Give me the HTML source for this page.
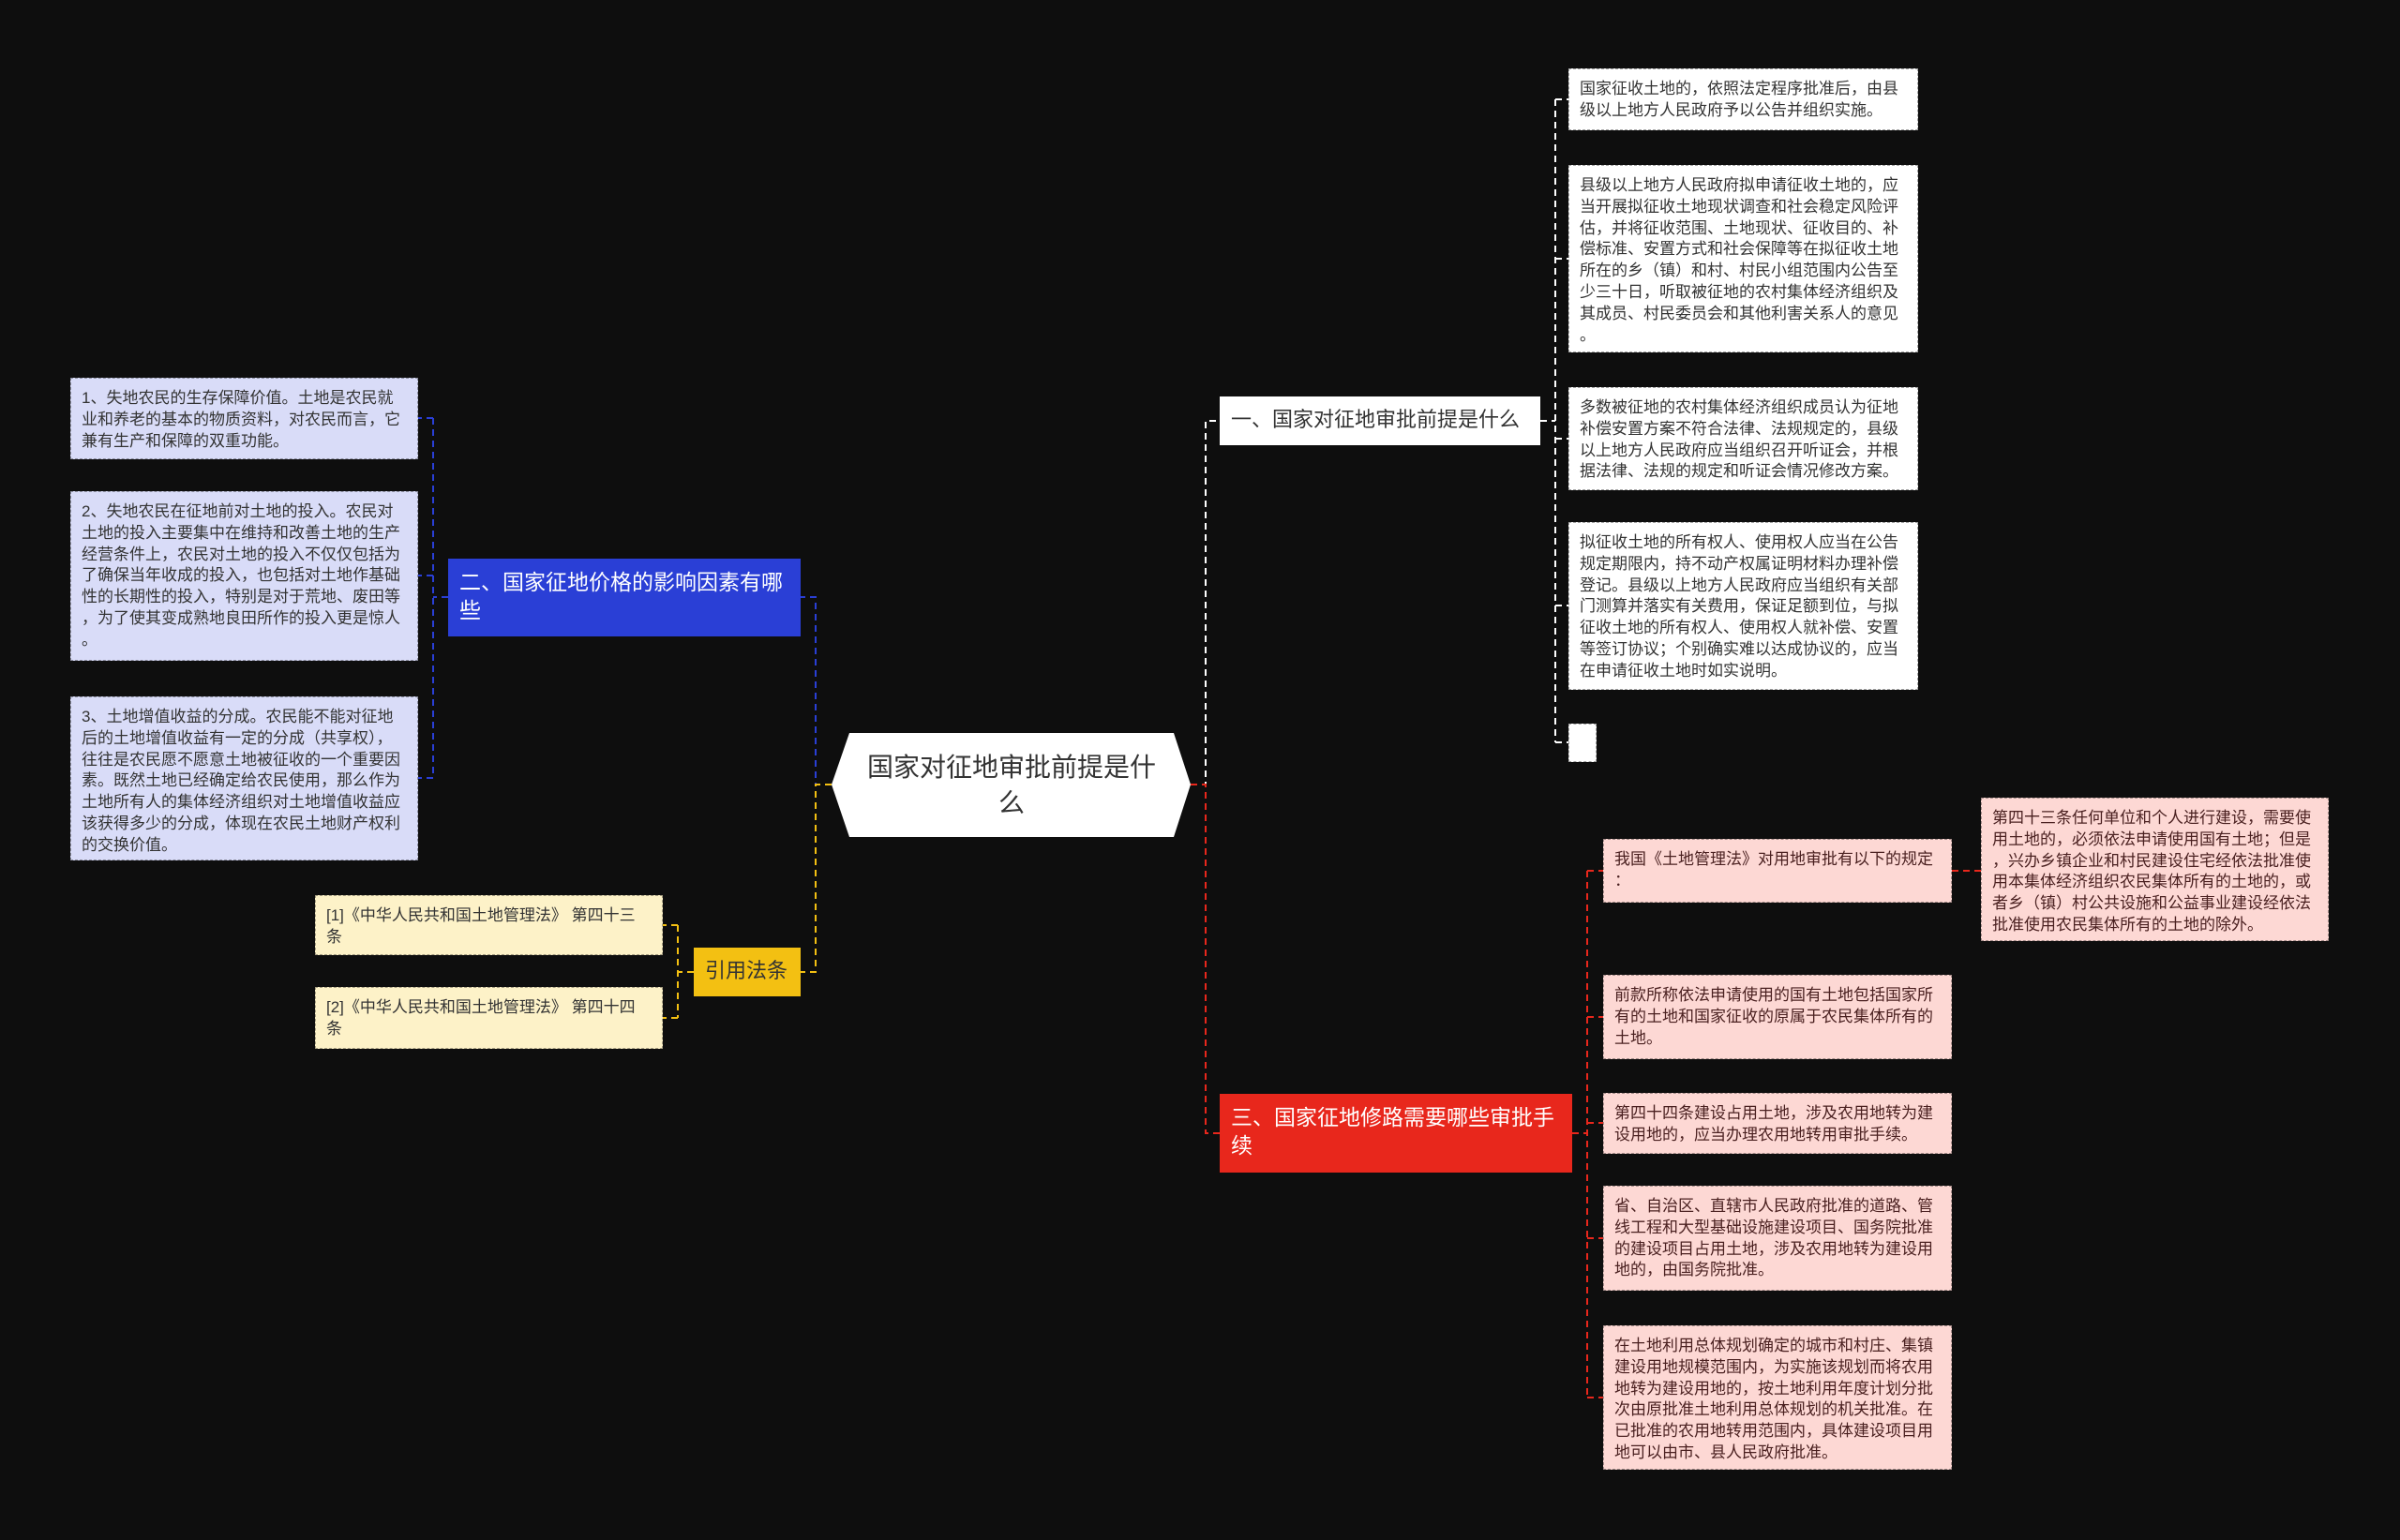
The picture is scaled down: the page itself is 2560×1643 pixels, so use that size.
<!DOCTYPE html>
<html><head><meta charset="utf-8"><style>
html,body{margin:0;padding:0;background:#0e0e0e;}
body{width:2560px;height:1643px;position:relative;overflow:hidden;font-family:"Liberation Sans","Noto Sans CJK SC",sans-serif;}
.b{position:absolute;box-sizing:border-box;font-size:17px;line-height:22.8px;padding:10px 11px;color:#333;border:1.5px dashed rgba(0,0,0,0.35);line-break:anywhere;word-break:break-all;}
.w{background:#fff;}
.l{background:#d9dcf8;color:#333;}
.y{background:#fdf2c8;padding-right:19px;}
.p{background:#fdd8d4;color:#4a2020;}
.br{position:absolute;box-sizing:border-box;font-size:23px;line-height:30px;padding:10px 12px;line-break:anywhere;}
svg{position:absolute;left:0;top:0;}
</style></head><body>
<svg width="2560" height="1643">
<g fill="none" stroke-width="2" stroke-dasharray="7,5">
<path d="M1270 837 H1286 V449 H1301" stroke="#ffffff"/>
<path d="M1270 837 H1286 V1209 H1301" stroke="#e8271c"/>
<path d="M887 837 H870 V637 H854" stroke="#2a3fd6"/>
<path d="M887 837 H870 V1037 H854" stroke="#f3c012"/>
<path d="M1643 449 H1659 M1659 106 V792 M1659 106 H1673 M1659 276 H1673 M1659 468 H1673 M1659 646 H1673 M1659 792 H1673" stroke="#ffffff"/>
<path d="M478 637 H462 M462 446 V830 M462 446 H446 M462 614 H446 M462 830 H446" stroke="#2a3fd6"/>
<path d="M740 1037 H723 M723 987 V1086 M723 987 H707 M723 1086 H707" stroke="#f3c012"/>
<path d="M1677 1209 H1693 M1693 929 V1491 M1693 929 H1710 M1693 1085 H1710 M1693 1198 H1710 M1693 1321 H1710 M1693 1491 H1710 M2082 929 H2113" stroke="#e8271c"/>
</g>
</svg>
<svg width="2560" height="1643"><polygon points="906,782 1252,782 1270,837 1252,893 906,893 887,837" fill="#fff"/></svg>
<div style="position:absolute;left:906px;top:782px;width:346px;height:111px;display:flex;align-items:center;justify-content:center;text-align:center;font-size:28px;line-height:38px;color:#333;">国家对征地审批前提是什<br>么</div>

<div class="br" style="left:1301px;top:423px;width:342px;height:52px;background:#fff;color:#333;font-size:22px;padding:10px 8px 10px 12px;white-space:nowrap;">一、国家对征地审批前提是什么</div>
<div class="b w" style="left:1673px;top:73px;width:373px;height:66px;">国家征收土地的，依照法定程序批准后，由县级以上地方人民政府予以公告并组织实施。</div>
<div class="b w" style="left:1673px;top:176px;width:373px;height:200px;">县级以上地方人民政府拟申请征收土地的，应当开展拟征收土地现状调查和社会稳定风险评估，并将征收范围、土地现状、征收目的、补偿标准、安置方式和社会保障等在拟征收土地所在的乡（镇）和村、村民小组范围内公告至少三十日，听取被征地的农村集体经济组织及其成员、村民委员会和其他利害关系人的意见。</div>
<div class="b w" style="left:1673px;top:413px;width:373px;height:110px;">多数被征地的农村集体经济组织成员认为征地补偿安置方案不符合法律、法规规定的，县级以上地方人民政府应当组织召开听证会，并根据法律、法规的规定和听证会情况修改方案。</div>
<div class="b w" style="left:1673px;top:557px;width:373px;height:179px;">拟征收土地的所有权人、使用权人应当在公告规定期限内，持不动产权属证明材料办理补偿登记。县级以上地方人民政府应当组织有关部门测算并落实有关费用，保证足额到位，与拟征收土地的所有权人、使用权人就补偿、安置等签订协议；个别确实难以达成协议的，应当在申请征收土地时如实说明。</div>
<div class="b w" style="left:1673px;top:772px;width:30px;height:41px;"></div>

<div class="br" style="left:478px;top:596px;width:376px;height:83px;background:#2a3fd6;color:#fff;">二、国家征地价格的影响因素有哪些</div>
<div class="b l" style="left:75px;top:403px;width:371px;height:87px;">1、失地农民的生存保障价值。土地是农民就业和养老的基本的物质资料，对农民而言，它兼有生产和保障的双重功能。</div>
<div class="b l" style="left:75px;top:524px;width:371px;height:181px;">2、失地农民在征地前对土地的投入。农民对土地的投入主要集中在维持和改善土地的生产经营条件上，农民对土地的投入不仅仅包括为了确保当年收成的投入，也包括对土地作基础性的长期性的投入，特别是对于荒地、废田等，为了使其变成熟地良田所作的投入更是惊人。</div>
<div class="b l" style="left:75px;top:743px;width:371px;height:175px;">3、土地增值收益的分成。农民能不能对征地后的土地增值收益有一定的分成（共享权），往往是农民愿不愿意土地被征收的一个重要因素。既然土地已经确定给农民使用，那么作为土地所有人的集体经济组织对土地增值收益应该获得多少的分成，体现在农民土地财产权利的交换价值。</div>

<div class="br" style="left:740px;top:1011px;width:114px;height:52px;background:#f3c012;color:#333;font-size:22px;">引用法条</div>
<div class="b y" style="left:336px;top:955px;width:371px;height:64px;">[1]《中华人民共和国土地管理法》 第四十三条</div>
<div class="b y" style="left:336px;top:1053px;width:371px;height:66px;">[2]《中华人民共和国土地管理法》 第四十四条</div>

<div class="br" style="left:1301px;top:1167px;width:376px;height:84px;background:#e8271c;color:#fff;">三、国家征地修路需要哪些审批手续</div>
<div class="b p" style="left:1710px;top:895px;width:372px;height:68px;">我国《土地管理法》对用地审批有以下的规定：</div>
<div class="b p" style="left:2113px;top:851px;width:371px;height:153px;">第四十三条任何单位和个人进行建设，需要使用土地的，必须依法申请使用国有土地；但是，兴办乡镇企业和村民建设住宅经依法批准使用本集体经济组织农民集体所有的土地的，或者乡（镇）村公共设施和公益事业建设经依法批准使用农民集体所有的土地的除外。</div>
<div class="b p" style="left:1710px;top:1040px;width:372px;height:90px;">前款所称依法申请使用的国有土地包括国家所有的土地和国家征收的原属于农民集体所有的土地。</div>
<div class="b p" style="left:1710px;top:1166px;width:372px;height:65px;">第四十四条建设占用土地，涉及农用地转为建设用地的，应当办理农用地转用审批手续。</div>
<div class="b p" style="left:1710px;top:1265px;width:372px;height:112px;">省、自治区、直辖市人民政府批准的道路、管线工程和大型基础设施建设项目、国务院批准的建设项目占用土地，涉及农用地转为建设用地的，由国务院批准。</div>
<div class="b p" style="left:1710px;top:1414px;width:372px;height:154px;">在土地利用总体规划确定的城市和村庄、集镇建设用地规模范围内，为实施该规划而将农用地转为建设用地的，按土地利用年度计划分批次由原批准土地利用总体规划的机关批准。在已批准的农用地转用范围内，具体建设项目用地可以由市、县人民政府批准。</div>
</body></html>
